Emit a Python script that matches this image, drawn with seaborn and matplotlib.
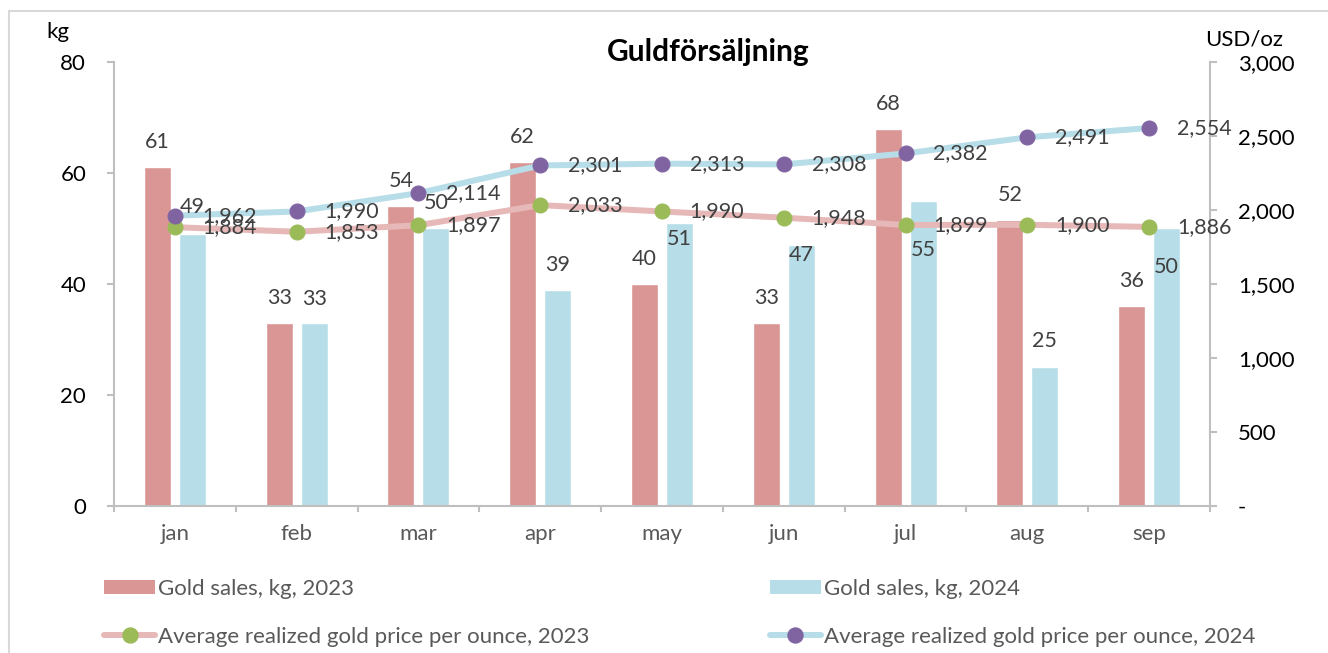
import numpy as np
import pandas as pd
import matplotlib
matplotlib.use("Agg")
import matplotlib.pyplot as plt
import seaborn as sns
from matplotlib.patches import Patch, Rectangle
from matplotlib.lines import Line2D
from matplotlib.ticker import FuncFormatter

# data
months = ["jan", "feb", "mar", "apr", "may", "jun", "jul", "aug", "sep"]
sales_2023 = [61, 33, 54, 62, 40, 33, 68, 51.6, 36]
sales_2024 = [49, 33, 50, 39, 51, 47, 55, 25, 50]
price_2023 = [1884, 1853, 1897, 2033, 1990, 1948, 1899, 1900, 1886]
price_2024 = [1962, 1990, 2114, 2301, 2313, 2308, 2382, 2491, 2554]
series_names = ["Gold sales, kg, 2023", "Gold sales, kg, 2024",
                "Average realized gold price per ounce, 2023",
                "Average realized gold price per ounce, 2024"]

# label nudges (pixels above bar top, negative = inside the bar)
lbl_off_2023 = [25] * 9
lbl_off_2024 = [27, 24, 25, 25, -16, -10, -49, 26, -39]

bar23 = "#d99694"
bar24 = "#b7dee8"
line23 = "#e6b9b8"
line24 = "#b7dee8"
mk23 = "#9bbb59"
mk24 = "#8064a2"
grid_gray = "#bfbfbf"
lbl_gray = "#404040"
txt_gray = "#595959"

sns.set_style("white")
plt.rcParams["font.family"] = ["Lato", "DejaVu Sans"]

W, H = 1328, 653
PX = 72 / 100  # points per pixel at dpi 100

fig = plt.figure(figsize=(W / 100, H / 100), dpi=100)
ax = fig.add_axes([114 / W, 1 - 506 / H, (1210 - 114) / W, (506 - 62) / H])

df = pd.DataFrame({
    "month": months * 2,
    "kg": sales_2023 + sales_2024,
    "series": [series_names[0]] * 9 + [series_names[1]] * 9,
})
sns.barplot(data=df, x="month", y="kg", hue="series", palette=[bar23, bar24],
            width=0.575, gap=0.229, saturation=1, legend=False, ax=ax)

ax2 = ax.twinx()
x_pos = np.arange(len(months))
sns.lineplot(x=x_pos, y=price_2023, ax=ax2, color=line23, lw=6 * PX,
             marker="o", markersize=15 * PX, markerfacecolor=mk23,
             markeredgecolor=mk23, zorder=3)
sns.lineplot(x=x_pos, y=price_2024, ax=ax2, color=line24, lw=6 * PX,
             marker="o", markersize=15 * PX, markerfacecolor=mk24,
             markeredgecolor=mk24, zorder=3)

ax.set_xlim(-0.5, 8.5)
ax.set_ylim(0, 80)
ax2.set_ylim(0, 3000)
ax.set_yticks([0, 20, 40, 60, 80])
ax2.set_yticks(np.arange(0, 3001, 500))
ax2.yaxis.set_major_formatter(FuncFormatter(lambda v, p: "-" if v == 0 else f"{v:,.0f}"))

ax.set_xlabel("")
ax.set_ylabel("")
ax2.set_ylabel("")
ax.set_xticks(x_pos)
ax.set_xticklabels(months)
ax.set_xticks(np.arange(-0.5, 9, 1), minor=True)

for a in (ax, ax2):
    for s in a.spines.values():
        s.set_color(grid_gray)
        s.set_linewidth(1.5)
    a.spines["top"].set_visible(False)
ax.spines["right"].set_visible(False)
ax2.spines["left"].set_visible(False)
ax2.spines["bottom"].set_visible(False)

ax.tick_params(axis="x", which="major", length=0, pad=13, labelsize=16, labelcolor=txt_gray)
ax.tick_params(axis="x", which="minor", length=6 * PX, width=1.5, color=grid_gray, direction="out", bottom=True)
ax.tick_params(axis="y", length=7 * PX, width=1.5, color=grid_gray, direction="out", left=True,
               pad=15, labelsize=16, labelcolor="black")
ax2.tick_params(axis="y", length=7 * PX, width=1.5, color=grid_gray, direction="out", right=True,
                pad=15, labelsize=16, labelcolor="black")

# bar labels
for cont, vals, offs in zip(ax.containers, (sales_2023, sales_2024), (lbl_off_2023, lbl_off_2024)):
    for bar, v, off in zip(cont, vals, offs):
        xc = bar.get_x() + bar.get_width() / 2
        ax2.annotate(f"{v:.0f}", (xc, bar.get_height()), xycoords=ax.transData,
                     xytext=(0, off * PX), textcoords="offset points",
                     ha="center", va="center", fontsize=15.5, color=lbl_gray, zorder=5)

# price labels
for vals in (price_2023, price_2024):
    for i, v in enumerate(vals):
        ax2.annotate(f"{v:,}", (i, v), xytext=(55 * PX, 0), textcoords="offset points",
                     ha="center", va="center", fontsize=15.5, color=lbl_gray, zorder=5)

fig.text(708 / W, 1 - 52 / H, "Guldförsäljning", ha="center", va="center",
         fontsize=21.5, fontweight="bold", color="black")
fig.text(58 / W, 1 - 32 / H, "kg", ha="center", va="center", fontsize=16, color="black")
fig.text(1244 / W, 1 - 39 / H, "USD/oz", ha="center", va="center", fontsize=16, color="black")

handles = [
    Patch(facecolor=bar23, edgecolor="none"),
    Line2D([], [], color=line23, lw=6 * PX, marker="o", markersize=15 * PX,
           markerfacecolor=mk23, markeredgecolor=mk23),
    Patch(facecolor=bar24, edgecolor="none"),
    Line2D([], [], color=line24, lw=6 * PX, marker="o", markersize=15 * PX,
           markerfacecolor=mk24, markeredgecolor=mk24),
]
labels = [series_names[0], series_names[2], series_names[1], series_names[3]]
fig.legend(handles, labels, ncol=2, loc="upper left", bbox_to_anchor=(104 / W, 1 - 579 / H),
           frameon=False, fontsize=16, labelcolor=txt_gray, borderpad=0, borderaxespad=0,
           handlelength=2.3, handleheight=0.6, handletextpad=0.15, columnspacing=8.1,
           labelspacing=1.25)

# outer chart border
fig.add_artist(Rectangle((9 / W, -0.2), 1.2, 1.2 - 11 / H, transform=fig.transFigure,
                         fill=False, edgecolor="#d9d9d9", lw=1.5))

fig.savefig("out.png", dpi=100)
